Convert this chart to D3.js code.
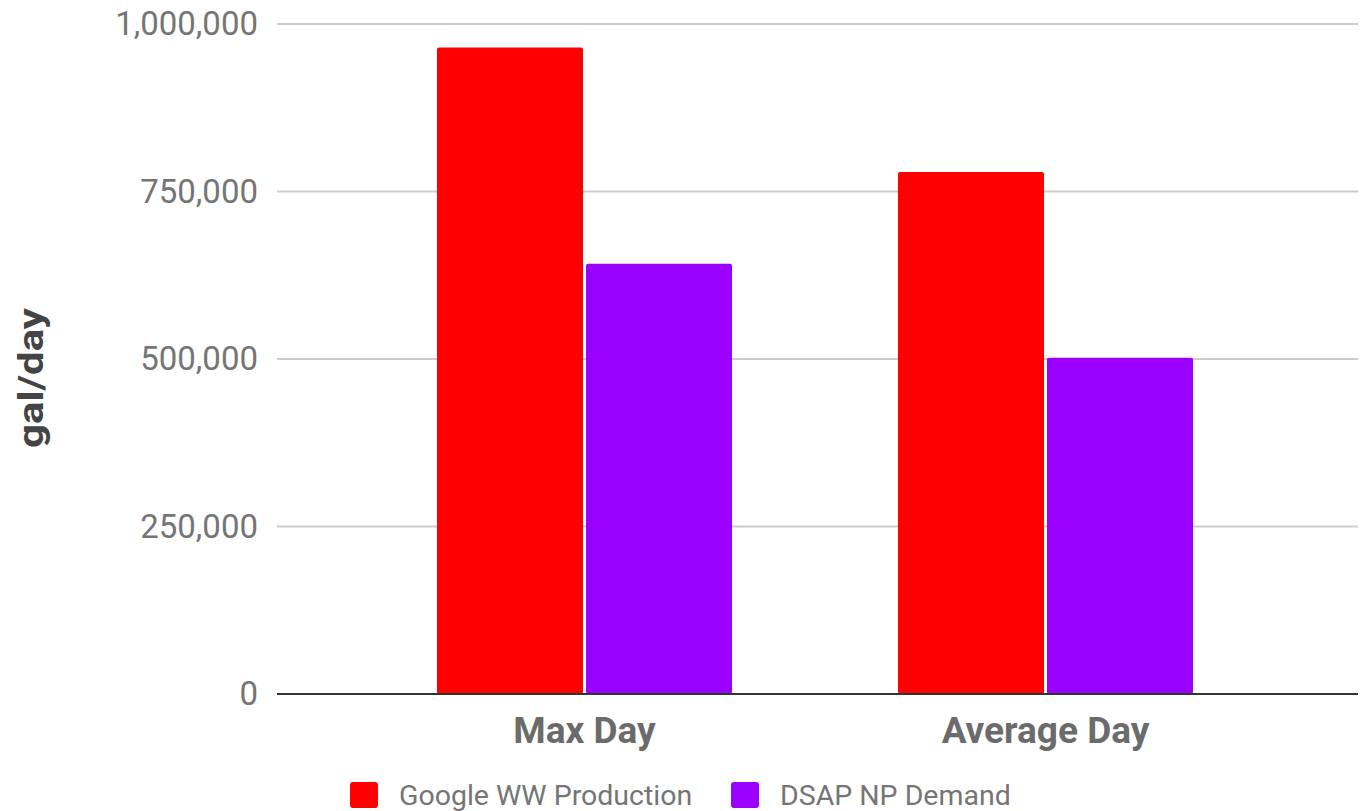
<!DOCTYPE html>
<html>
<head>
<meta charset="utf-8">
<script src="https://cdn.jsdelivr.net/npm/d3@7"></script>
<style>
  body { margin: 0; background: #fff; }
  svg { font-family: Roboto, "Noto Sans", sans-serif; }
</style>
</head>
<body>
<svg id="mainsvg" width="1362" height="811"></svg>
<script>
var categories = ["Max Day", "Average Day"];
var seriesNames = ["Google WW Production", "DSAP NP Demand"];
var googleWW = [965000, 779000];
var dsapNP = [642000, 502000];
var yTicks = [0, 250000, 500000, 750000, 1000000];
var colors = ["#ff0000", "#9900ff"];

var svg = d3.select("#mainsvg");

var gridLeft = 277, gridRight = 1358;
var y = d3.scaleLinear().domain([0, 1000000]).range([694, 24]);
var x0 = d3.scaleBand().domain(categories).range([354, 1276])
  .paddingInner(0.36).paddingOuter(0.18);
var x1 = d3.scaleBand().domain(seriesNames).range([0, x0.bandwidth()])
  .paddingInner(0.02);

var rows = categories.map(function (c, i) {
  return { cat: c, values: [googleWW[i], dsapNP[i]] };
});

// gridlines
svg.append("g")
  .selectAll("line")
  .data(yTicks.filter(function (d) { return d > 0; }))
  .enter()
  .append("line")
  .attr("x1", gridLeft)
  .attr("x2", gridRight)
  .attr("y1", function (d) { return y(d); })
  .attr("y2", function (d) { return y(d); })
  .attr("stroke", "#cccccc")
  .attr("stroke-width", 2);

// y axis labels
var yAxis = d3.axisLeft(y).tickValues(yTicks).tickSize(0).tickPadding(0)
  .tickFormat(d3.format(","));
var ya = svg.append("g").attr("transform", "translate(258,0)").call(yAxis);
ya.select(".domain").remove();
ya.selectAll("text")
  .attr("fill", "#757575")
  .style("font-size", "33px")
  .style("font-family", "Roboto, sans-serif");

// bars
var groups = svg.append("g")
  .selectAll("g")
  .data(rows)
  .enter()
  .append("g")
  .attr("transform", function (d) { return "translate(" + x0(d.cat) + ",0)"; });

groups.selectAll("rect")
  .data(function (d) {
    return d.values.map(function (v, j) { return { name: seriesNames[j], v: v, j: j }; });
  })
  .enter()
  .append("rect")
  .attr("x", function (d) { return x1(d.name); })
  .attr("y", function (d) { return y(d.v); })
  .attr("width", x1.bandwidth())
  .attr("height", function (d) { return y(0) - y(d.v); })
  .attr("rx", 2)
  .attr("fill", function (d) { return colors[d.j]; });

// baseline
svg.append("line")
  .attr("x1", gridLeft)
  .attr("x2", gridRight)
  .attr("y1", y(0))
  .attr("y2", y(0))
  .attr("stroke", "#333333")
  .attr("stroke-width", 2);

// x axis labels
var xAxis = d3.axisBottom(x0).tickSize(0).tickPadding(0);
var xa = svg.append("g").attr("transform", "translate(0,743)").call(xAxis);
xa.select(".domain").remove();
xa.selectAll("text")
  .attr("dy", 0)
  .attr("fill", "#6b6b6b")
  .style("font-size", "37px")
  .style("font-weight", "bold")
  .style("font-family", "Roboto, sans-serif");

// y axis title
svg.append("text")
  .attr("transform", "translate(43,378) rotate(-90)")
  .attr("text-anchor", "middle")
  .attr("fill", "#444444")
  .attr("textLength", 140)
  .attr("lengthAdjust", "spacingAndGlyphs")
  .style("font-size", "35px")
  .style("font-weight", "bold")
  .text("gal/day");

// legend
var legendX = [350, 731];
var legend = svg.append("g")
  .selectAll("g")
  .data(seriesNames)
  .enter()
  .append("g")
  .attr("transform", function (d, i) { return "translate(" + legendX[i] + ",782)"; });
legend.append("rect")
  .attr("width", 28)
  .attr("height", 26)
  .attr("rx", 3)
  .attr("fill", function (d, i) { return colors[i]; });
legend.append("text")
  .attr("x", 49)
  .attr("y", 23)
  .attr("fill", "#757575")
  .style("font-size", "28.5px")
  .text(function (d) { return d; });
</script>
</body>
</html>
